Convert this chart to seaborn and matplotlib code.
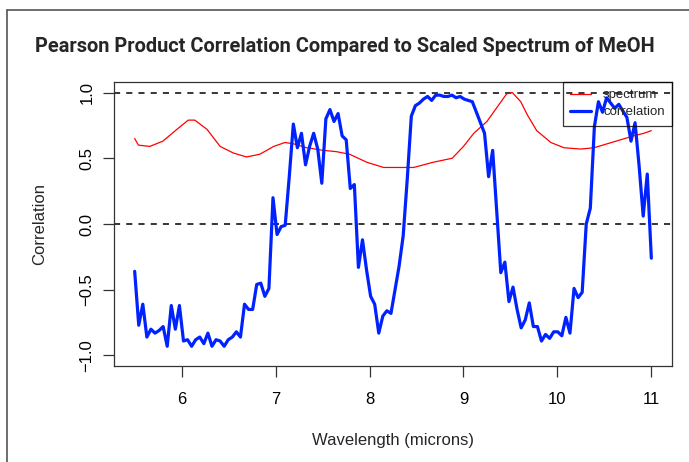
import numpy as np
import pandas as pd
import matplotlib
matplotlib.use("Agg")
import matplotlib.pyplot as plt
from matplotlib.lines import Line2D
import seaborn as sns

# ── Data ─────────────────────────────────────────────────────────────────────
wl_start, wl_stop = 5.5, 11.0

correlation = [
    -0.36, -0.77, -0.61, -0.86, -0.80, -0.83, -0.81, -0.78, -0.93, -0.62,
    -0.80, -0.62, -0.89, -0.88, -0.93, -0.88, -0.86, -0.91, -0.83, -0.93,
    -0.88, -0.89, -0.93, -0.88, -0.86, -0.82, -0.86, -0.61, -0.65, -0.65,
    -0.46, -0.45, -0.55, -0.49, 0.20, -0.08, -0.02, -0.01, 0.36, 0.76,
    0.58, 0.69, 0.45, 0.59, 0.69, 0.57, 0.31, 0.80, 0.87, 0.78,
    0.84, 0.67, 0.64, 0.27, 0.30, -0.33, -0.12, -0.35, -0.55, -0.61,
    -0.83, -0.70, -0.66, -0.68, -0.50, -0.32, -0.09, 0.34, 0.82, 0.90,
    0.92, 0.95, 0.97, 0.94, 0.98, 0.98, 0.97, 0.97, 0.98, 0.96,
    0.97, 0.95, 0.94, 0.93, 0.85, 0.77, 0.69, 0.36, 0.56, 0.09,
    -0.37, -0.29, -0.59, -0.48, -0.65, -0.79, -0.73, -0.60, -0.78, -0.78,
    -0.89, -0.84, -0.87, -0.82, -0.82, -0.85, -0.71, -0.83, -0.49, -0.56,
    -0.52, 0.00, 0.12, 0.74, 0.93, 0.85, 0.96, 0.92, 0.88, 0.91,
    0.86, 0.81, 0.63, 0.77, 0.44, 0.06, 0.38, -0.26,
]

spectrum_wl = [
    5.50, 5.54, 5.66, 5.80, 5.95, 6.07, 6.14, 6.27, 6.41, 6.55,
    6.69, 6.83, 6.98, 7.10, 7.19, 7.33, 7.51, 7.65, 7.79, 7.97,
    8.15, 8.29, 8.47, 8.68, 8.88, 9.00, 9.11, 9.25, 9.34, 9.46,
    9.52, 9.61, 9.68, 9.78, 9.93, 10.07, 10.25, 10.39, 10.53, 10.67,
    10.81, 10.92, 11.00,
]
spectrum = [
    0.65, 0.60, 0.59, 0.63, 0.72, 0.79, 0.79, 0.72, 0.59, 0.54,
    0.51, 0.53, 0.59, 0.62, 0.61, 0.58, 0.56, 0.55, 0.53, 0.47,
    0.43, 0.43, 0.43, 0.47, 0.50, 0.59, 0.69, 0.78, 0.87, 0.99,
    1.00, 0.93, 0.83, 0.71, 0.62, 0.58, 0.57, 0.58, 0.61, 0.64,
    0.67, 0.69, 0.71,
]

x_ticks = [6, 7, 8, 9, 10, 11]
y_ticks = [-1.0, -0.5, 0.0, 0.5, 1.0]
ref_lines = [0.0, 1.0]

corr_df = pd.DataFrame({
    "wavelength": np.linspace(wl_start, wl_stop, len(correlation)),
    "value": correlation,
})
spec_df = pd.DataFrame({"wavelength": spectrum_wl, "value": spectrum})

# ── Style ────────────────────────────────────────────────────────────────────
sns.set_theme(style="white")
plt.rcParams.update({
    "font.family": ["Liberation Sans", "DejaVu Sans"],
    "axes.edgecolor": "#333333",
    "axes.linewidth": 0.9,
    "xtick.color": "#333333",
    "ytick.color": "#333333",
    "xtick.labelcolor": "black",
    "ytick.labelcolor": "black",
})

W, H = 689, 462
fig = plt.figure(figsize=(W / 100, H / 100), dpi=100)
fig.patch.set_facecolor("white")

# axes box in pixel terms (R-style plot region)
L, R_, T, B = 114, 672, 82, 366
ax = fig.add_axes([L / W, 1 - B / H, (R_ - L) / W, (B - T) / H])

for yv in ref_lines:
    ax.axhline(yv, color="black", lw=1.1, ls=(0, (4, 4)), zorder=1)

sns.lineplot(data=spec_df, x="wavelength", y="value", ax=ax, color="#ff0000",
             lw=0.9, sort=False, estimator=None, zorder=2)
sns.lineplot(data=corr_df, x="wavelength", y="value", ax=ax, color="#0022ff",
             lw=2.3, sort=False, estimator=None, zorder=3)

ax.set_xlim(5.28, 11.22)
ax.set_ylim(-1.08, 1.08)
ax.set_xticks(x_ticks)
ax.set_yticks(y_ticks)
ax.set_xticklabels([str(v) for v in x_ticks])
ax.set_yticklabels([f"{v:.1f}".replace("-", "\u2212") for v in y_ticks])
ax.tick_params(axis="both", which="major", length=8, width=0.9,
               direction="out", labelsize=12)
ax.tick_params(axis="x", pad=11, bottom=True)
ax.tick_params(axis="y", pad=6, left=True, labelrotation=90)
for lab in ax.get_yticklabels():
    lab.set_va("center")

ax.set_xlabel("Wavelength (microns)", fontsize=12)
ax.set_ylabel("Correlation", fontsize=12)
ax.xaxis.set_label_coords(0.5, (B - 441) / (B - T))
ax.xaxis.label.set_va("center")
ax.yaxis.set_label_coords((40 - L) / (R_ - L), 0.5)
ax.yaxis.label.set_rotation_mode("anchor")
ax.yaxis.label.set_va("center")

handles = [
    Line2D([], [], color="#ff0000", lw=0.9),
    Line2D([], [], color="#0022ff", lw=2.3),
]
leg = ax.legend(handles, ["spectrum", "correlation"], loc="upper right",
                fontsize=9.5, frameon=True, fancybox=False,
                borderaxespad=0, borderpad=0.55, labelspacing=0.35,
                handlelength=1.6, handletextpad=0.9)
leg.get_frame().set_edgecolor("black")
leg.get_frame().set_facecolor("none")
leg.get_frame().set_linewidth(0.9)

fig.text(0.5, 1 - 47 / H,
         "Pearson Product Correlation Compared to Scaled Spectrum of MeOH",
         ha="center", va="center", fontsize=14.4, fontweight="bold",
         family=["Roboto", "DejaVu Sans"])

# outer frame of the original screenshot
fig.add_artist(Line2D([7 / W, 7 / W], [0, 1 - 10 / H], color="#555555", lw=1.2,
                      transform=fig.transFigure))
fig.add_artist(Line2D([7 / W, 1], [1 - 10 / H, 1 - 10 / H], color="#555555",
                      lw=1.2, transform=fig.transFigure))

fig.savefig("out.png", dpi=100)
